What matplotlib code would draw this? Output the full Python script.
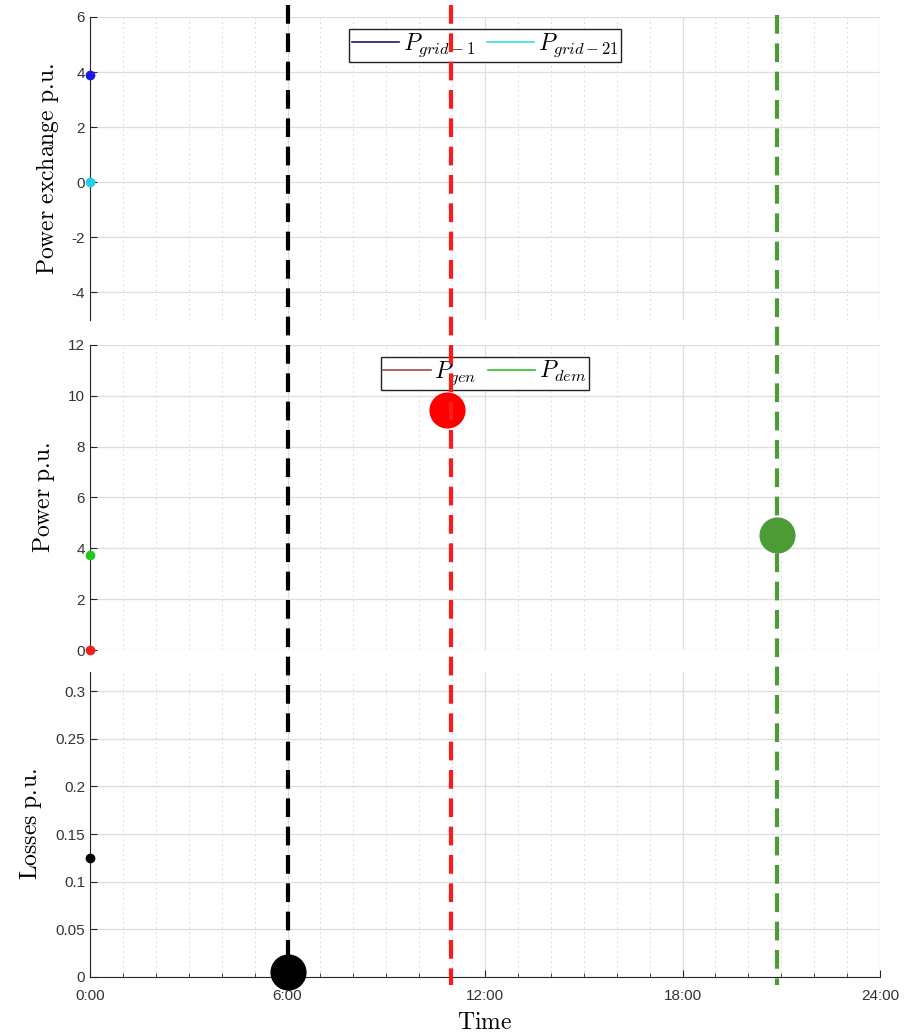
import numpy as np
import matplotlib
matplotlib.use('Agg')
import matplotlib.pyplot as plt
from matplotlib.lines import Line2D

plt.rcParams['mathtext.fontset'] = 'cm'
plt.rcParams['axes.unicode_minus'] = False
plt.rcParams['font.family'] = ['Liberation Sans', 'DejaVu Sans']

# Time axis (hours)
hour_ticks = [0, 6, 12, 18, 24]
hour_labels = ['0:00', '6:00', '12:00', '18:00', '24:00']

# Current values at t = 0
t_now = [0.0]
p_grid1_now = [3.9]
p_grid21_now = [0.0]
p_gen_now = [0.0]
p_dem_now = [3.75]
losses_now = [0.125]

# Cursor markers (time, value)
loss_cursor_t, loss_cursor_v = [6.0], [0.005]
gen_cursor_t, gen_cursor_v = [10.85], [9.45]
dem_cursor_t, dem_cursor_v = [20.87], [4.52]

# Vertical cursor lines (time)
cursor_lines_t = [6.0, 10.97, 20.87]

# y axis ticks
pex_ticks = [6, 4, 2, 0, -2, -4]
pow_ticks = [0, 2, 4, 6, 8, 10, 12]
loss_ticks = [0, 0.05, 0.1, 0.15, 0.2, 0.25, 0.3]
loss_labels = ['0', '0.05', '0.1', '0.15', '0.2', '0.25', '0.3']

W, H = 909, 1032
L, R = 90, 880
fig = plt.figure(figsize=(W / 100, H / 100), dpi=100)


def add_ax(top, bottom):
    return fig.add_axes([L / W, 1 - bottom / H, (R - L) / W, (bottom - top) / H])


def style(ax, show_x):
    ax.set_xlim(0, 24)
    ax.set_xticks(hour_ticks)
    ax.set_xticks(range(25), minor=True)
    ax.grid(which='major', color='#dedede', lw=0.9)
    ax.grid(which='minor', axis='x', color='#dcdcdc', lw=0.7, ls=(0, (2, 3)))
    ax.set_axisbelow(True)
    for s in ['top', 'right']:
        ax.spines[s].set_visible(False)
    ax.spines['left'].set_color('#262626')
    ax.tick_params(direction='in', colors='#262626', labelsize=11, length=5)
    ax.tick_params(which='minor', direction='in', length=3, colors='#262626')
    ax.tick_params(axis='y', which='minor', left=False)
    ax.tick_params(axis='x', pad=9)
    for lab in ax.get_yticklabels() + ax.get_xticklabels():
        lab.set_color('#333333')
    if show_x:
        ax.set_xticklabels(hour_labels, color='#333333')
        ax.spines['bottom'].set_color('#262626')
    else:
        ax.spines['bottom'].set_visible(False)
        ax.tick_params(axis='x', which='both', bottom=False, labelbottom=False)


leg_kw = dict(loc='upper center', bbox_to_anchor=(0.5, 0.962), ncol=2, fontsize=17,
              fancybox=False, edgecolor='#222222', framealpha=1, borderpad=0.12,
              borderaxespad=0, handlelength=2.0, handletextpad=0.15,
              columnspacing=0.5)

# Power exchange
ax1 = add_ax(17, 320)
style(ax1, False)
ax1.set_ylim(-5, 6)
ax1.set_yticks(pex_ticks)
ax1.plot(t_now, p_grid1_now, 'o', color='#1a1ae6', ms=6, clip_on=False, zorder=5)
ax1.plot(t_now, p_grid21_now, 'o', color='#1ed2e6', ms=6, clip_on=False, zorder=5)
ax1.set_ylabel(r'$\mathrm{Power\ exchange\ p.\!u.}$', fontsize=17, labelpad=8)
h1 = [Line2D([], [], color='#1a1a70', lw=1.2), Line2D([], [], color='#40d8d8', lw=1.2)]
ax1.legend(h1, [r'$P_{grid-1}$', r'$P_{grid-21}$'], **leg_kw).get_frame().set_linewidth(1.0)

# Power
ax2 = add_ax(345, 650)
style(ax2, False)
ax2.set_ylim(0, 12)
ax2.set_yticks(pow_ticks)
ax2.plot(t_now, p_gen_now, 'o', color='#f02020', ms=6, clip_on=False, zorder=5)
ax2.plot(t_now, p_dem_now, 'o', color='#20c820', ms=6, clip_on=False, zorder=5)
ax2.plot(gen_cursor_t, gen_cursor_v, 'o', color='#ff0000', ms=25, clip_on=False, zorder=6)
ax2.plot(dem_cursor_t, dem_cursor_v, 'o', color='#4d9b37', ms=25, clip_on=False, zorder=6)
ax2.set_ylabel(r'$\mathrm{Power\ p.\!u.}$', fontsize=17, labelpad=8)
h2 = [Line2D([], [], color='#a04848', lw=1.2), Line2D([], [], color='#30c030', lw=1.2)]
ax2.legend(h2, [r'$P_{gen}$', r'$P_{dem}$'], **leg_kw).get_frame().set_linewidth(1.0)

# Losses
ax3 = add_ax(672, 977)
style(ax3, True)
ax3.set_ylim(0, 0.32)
ax3.set_yticks(loss_ticks)
ax3.set_yticklabels(loss_labels, color='#333333')
ax3.plot(t_now, losses_now, 'o', color='black', ms=6, clip_on=False, zorder=5)
ax3.set_ylabel(r'$\mathrm{Losses\ p.\!u.}$', fontsize=17, labelpad=8)
ax3.set_xlabel(r'$\mathrm{Time}$', fontsize=17, labelpad=6)

# overlay for cursor lines spanning all panels (y in pixels from top)
ov = fig.add_axes([L / W, 0, (R - L) / W, 1], facecolor='none')
ov.set_xlim(0, 24)
ov.set_ylim(H, 0)
ov.axis('off')
line_cols = ['black', '#ff1a1a', '#4d9b37']
line_span = [(5, 965), (5, 985), (15, 985)]
for t, c, (y0, y1) in zip(cursor_lines_t, line_cols, line_span):
    ov.vlines(t, y0, y1, colors=c, lw=3.0, linestyles=(0, (4.5, 2.3)), zorder=3)
ov.plot(loss_cursor_t, [977 - loss_cursor_v[0] / 0.32 * 305], 'o', color='black',
        ms=25, zorder=6)

fig.savefig('out.png', dpi=100)
